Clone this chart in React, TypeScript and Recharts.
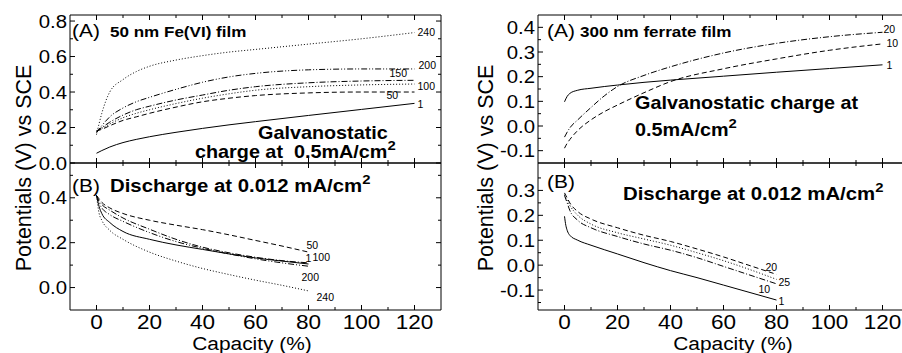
import { LineChart, Line, XAxis, YAxis } from 'recharts';

const FONT = '"Liberation Sans", Arial, Helvetica, sans-serif';
const SX = 1.1; // the scan is a little stretched sideways

// (A) left: 50 nm Fe(VI) film, galvanostatic charge
const capA = [0, 2, 5, 10, 15, 20, 30, 40, 50, 60, 80, 100, 120];
const a50_1 = [0.055, 0.07, 0.09, 0.115, 0.133, 0.148, 0.173, 0.195, 0.215, 0.233, 0.268, 0.302, 0.336];
const a50_50 = [0.18, 0.19, 0.21, 0.24, 0.26, 0.28, 0.315, 0.345, 0.365, 0.38, 0.395, 0.4, 0.4];
const a50_100 = [0.18, 0.195, 0.22, 0.255, 0.28, 0.3, 0.335, 0.365, 0.39, 0.41, 0.43, 0.44, 0.445];
const a50_150 = [0.18, 0.2, 0.23, 0.27, 0.3, 0.32, 0.355, 0.383, 0.41, 0.43, 0.452, 0.462, 0.466];
const a50_200 = [0.17, 0.21, 0.26, 0.31, 0.345, 0.37, 0.415, 0.455, 0.485, 0.505, 0.525, 0.53, 0.53];
const a50_240 = [0.16, 0.28, 0.4, 0.47, 0.515, 0.545, 0.58, 0.605, 0.625, 0.64, 0.67, 0.7, 0.735];

// (B) left: discharge
const capB = [0, 1, 2, 5, 10, 20, 30, 40, 50, 60, 70, 80];
const b50_1 = [0.41, 0.36, 0.33, 0.29, 0.25, 0.215, 0.19, 0.17, 0.15, 0.132, 0.118, 0.105];
const b50_50 = [0.41, 0.395, 0.38, 0.355, 0.33, 0.3, 0.278, 0.258, 0.235, 0.21, 0.185, 0.158];
const b50_100 = [0.41, 0.385, 0.37, 0.345, 0.31, 0.26, 0.215, 0.18, 0.155, 0.135, 0.12, 0.11];
const b50_200 = [0.41, 0.375, 0.355, 0.325, 0.295, 0.245, 0.205, 0.175, 0.15, 0.128, 0.11, 0.095];
const b50_240 = [0.41, 0.33, 0.3, 0.255, 0.215, 0.158, 0.118, 0.085, 0.058, 0.033, 0.01, -0.015];

// (A) right: 300 nm ferrate film, charge
const capC = [0, 1, 2, 5, 10, 15, 20, 30, 40, 60, 80, 100, 120];
const c300_1 = [0.098, 0.12, 0.132, 0.145, 0.153, 0.16, 0.166, 0.177, 0.186, 0.202, 0.218, 0.233, 0.248];
const c300_10 = [-0.09, -0.07, -0.055, -0.018, 0.025, 0.058, 0.085, 0.135, 0.18, 0.232, 0.272, 0.307, 0.333];
const c300_20 = [-0.045, -0.025, -0.008, 0.025, 0.075, 0.122, 0.16, 0.205, 0.24, 0.296, 0.335, 0.362, 0.38];

// (B) right: discharge
const capD = [0, 0.5, 1, 2, 5, 10, 20, 30, 40, 50, 60, 70, 80];
const d300_1 = [0.196, 0.16, 0.14, 0.12, 0.1, 0.08, 0.045, 0.01, -0.022, -0.05, -0.08, -0.11, -0.14];
const d300_10 = [0.28, 0.265, 0.25, 0.22, 0.18, 0.15, 0.115, 0.085, 0.06, 0.03, -0.005, -0.04, -0.075];
const d300_20 = [0.29, 0.28, 0.27, 0.25, 0.215, 0.185, 0.15, 0.12, 0.095, 0.065, 0.033, -0.002, -0.037];
const d300_25 = [0.283, 0.27, 0.26, 0.24, 0.2, 0.165, 0.13, 0.105, 0.08, 0.05, 0.018, -0.018, -0.057];

// ticks
const xTicks = [0, 10, 20, 30, 40, 50, 60, 70, 80, 90, 100, 110, 120];
const xMajor = [0, 20, 40, 60, 80, 100, 120];
const yTicksA50 = [0, 0.1, 0.2, 0.3, 0.4, 0.5, 0.6, 0.7, 0.8];
const yMajorA50 = [0, 0.2, 0.4, 0.6, 0.8];
const yTicksB50 = [0, 0.1, 0.2, 0.3, 0.4, 0.5];
const yMajorB50 = [0, 0.2, 0.4];
const yTicksA300 = [-0.1, -0.05, 0, 0.05, 0.1, 0.15, 0.2, 0.25, 0.3, 0.35, 0.4];
const yMajorA300 = [-0.1, 0, 0.1, 0.2, 0.3, 0.4];
const yTicksB300 = [-0.15, -0.1, -0.05, 0, 0.05, 0.1, 0.15, 0.2, 0.25, 0.3, 0.35];
const yMajorB300 = [-0.1, 0, 0.1, 0.2, 0.3];

const SOLID = undefined;
const DASH = '5 3';
const DOT = '1 2';
const DASHDOT = '6 2 1 2';
const DASHDOTDOT = '6 2 1 2 1 2';

type Series = { key: string; label: string; dash?: string; vals: number[]; dx: number; dy: number };

const seriesA50: Series[] = [
  { key: 's1', label: '1', dash: SOLID, vals: a50_1, dx: 3, dy: 5 },
  { key: 's50', label: '50', dash: DASH, vals: a50_50, dx: -28, dy: 7 },
  { key: 's100', label: '100', dash: DOT, vals: a50_100, dx: 3, dy: 6 },
  { key: 's150', label: '150', dash: DASHDOT, vals: a50_150, dx: -25, dy: -3 },
  { key: 's200', label: '200', dash: DASHDOTDOT, vals: a50_200, dx: 4, dy: 0 },
  { key: 's240', label: '240', dash: DOT, vals: a50_240, dx: 3, dy: 3 },
];
const seriesB50: Series[] = [
  { key: 's1', label: '1', dash: SOLID, vals: b50_1, dx: -3, dy: -2 },
  { key: 's50', label: '50', dash: DASH, vals: b50_50, dx: -2, dy: -3.5 },
  { key: 's100', label: '100', dash: DASHDOT, vals: b50_100, dx: 4, dy: -2 },
  { key: 's200', label: '200', dash: DASHDOTDOT, vals: b50_200, dx: -7, dy: 15 },
  { key: 's240', label: '240', dash: DOT, vals: b50_240, dx: 8, dy: 10 },
];
const seriesA300: Series[] = [
  { key: 's1', label: '1', dash: SOLID, vals: c300_1, dx: 4, dy: 4 },
  { key: 's10', label: '10', dash: DASH, vals: c300_10, dx: 4, dy: 3 },
  { key: 's20', label: '20', dash: DASHDOT, vals: c300_20, dx: 1, dy: 1 },
];
const seriesB300: Series[] = [
  { key: 's1', label: '1', dash: SOLID, vals: d300_1, dx: 2, dy: 5 },
  { key: 's10', label: '10', dash: DASHDOT, vals: d300_10, dx: -18, dy: 9 },
  { key: 's20', label: '20', dash: DASH, vals: d300_20, dx: -11, dy: -3 },
  { key: 's25', label: '25', dash: DOT, vals: d300_25, dx: 2, dy: 7 },
];

const isIn = (v: number, list: number[]) => list.some((m) => Math.abs(m - v) < 1e-6);

function St({ x, y, size, anchor = 'start', bold = false, children }: any) {
  return (
    <text
      transform={`translate(${x} ${y}) scale(${SX} 1)`}
      fontSize={size}
      fontFamily={FONT}
      fontWeight={bold ? 'bold' : 'normal'}
      textAnchor={anchor}
      fill="#000"
      style={{ whiteSpace: 'pre' }}
    >
      {children}
    </text>
  );
}

const yTick = (side: 'l' | 'r', majors: number[], show: boolean) => (tp: any) => {
  const v = tp.payload.value;
  const major = isIn(v, majors);
  const len = major ? 5 : 3;
  const dir = side === 'l' ? 1 : -1;
  return (
    <g>
      <line x1={tp.x} x2={tp.x + dir * len} y1={tp.y} y2={tp.y} stroke="#000" strokeWidth={1} />
      {show && major && (
        <St x={tp.x - 3} y={tp.y + 6.6} size={18.5} anchor="end">
          {v.toFixed(1)}
        </St>
      )}
    </g>
  );
};

const xTick = (side: 't' | 'b', show: boolean) => (tp: any) => {
  const v = tp.payload.value;
  const major = isIn(v, xMajor);
  const len = major ? 5 : 3;
  const dir = side === 'b' ? -1 : 1;
  return (
    <g>
      <line x1={tp.x} x2={tp.x} y1={tp.y} y2={tp.y + dir * len} stroke="#000" strokeWidth={1} />
      {show && major && (
        <St x={tp.x} y={tp.y + 19} size={20.5} anchor="middle">
          {v}
        </St>
      )}
    </g>
  );
};

type PanelProps = {
  left: number;
  top: number;
  height: number;
  topH: number;
  bottomH: number;
  cap: number[];
  series: Series[];
  yDomain: [number, number];
  yTicks: number[];
  yMajor: number[];
  showX: boolean;
};

function Panel(p: PanelProps) {
  const data = p.cap.map((c, i) => {
    const row: any = { cap: c };
    p.series.forEach((s) => (row[s.key] = s.vals[i]));
    return row;
  });
  const last = p.cap.length - 1;
  const common = { tickSize: 0, tickMargin: 0, tickLine: false, interval: 0 as const, allowDataOverflow: true, axisLine: { stroke: '#000' } };
  return (
    <div style={{ position: 'absolute', left: p.left, top: p.top }}>
      <LineChart width={460} height={p.height} data={data} margin={{ top: 0, right: 0, bottom: 0, left: 0 }}>
        <XAxis xAxisId="b" dataKey="cap" type="number" domain={[-10, 130]} ticks={xTicks} orientation="bottom" height={p.bottomH} tick={xTick('b', p.showX)} {...common} />
        <XAxis xAxisId="t" dataKey="cap" type="number" domain={[-10, 130]} ticks={xTicks} orientation="top" height={p.topH} tick={xTick('t', false)} {...common} />
        <YAxis yAxisId="l" type="number" domain={p.yDomain} ticks={p.yTicks} orientation="left" width={70} tick={yTick('l', p.yMajor, true)} {...common} />
        <YAxis yAxisId="r" type="number" domain={p.yDomain} ticks={p.yTicks} orientation="right" width={19} tick={yTick('r', p.yMajor, false)} {...common} />
        {p.series.map((s) => (
          <Line
            key={s.key}
            xAxisId="b"
            yAxisId="l"
            dataKey={s.key}
            type="monotone"
            stroke="#000"
            strokeWidth={1}
            strokeDasharray={s.dash}
            dot={false}
            isAnimationActive={false}
            label={(lp: any) =>
              lp.index === last ? (
                <text key={s.key + '-lbl'} x={lp.x + s.dx} y={lp.y + s.dy} fontSize={10.5} fontFamily={FONT} fill="#000">
                  {s.label}
                </text>
              ) : (
                <g key={s.key + '-' + lp.index} />
              )
            }
          />
        ))}
      </LineChart>
    </div>
  );
}

export default function App() {
  return (
    <div style={{ position: 'absolute', left: 0, top: 0, width: 902, height: 353, overflow: 'hidden', background: '#fff' }}>
      <Panel left={0} top={0} height={175} topH={15} bottomH={12} cap={capA} series={seriesA50} yDomain={[0, 0.834]} yTicks={yTicksA50} yMajor={yMajorA50} showX={false} />
      <Panel left={0} top={148} height={205} topH={15} bottomH={43} cap={capB} series={seriesB50} yDomain={[-0.1, 0.555]} yTicks={yTicksB50} yMajor={yMajorB50} showX />
      <Panel left={468} top={0} height={175} topH={15} bottomH={12} cap={capC} series={seriesA300} yDomain={[-0.15, 0.45]} yTicks={yTicksA300} yMajor={yMajorA300} showX={false} />
      <Panel left={468} top={148} height={205} topH={15} bottomH={43} cap={capD} series={seriesB300} yDomain={[-0.18, 0.41]} yTicks={yTicksB300} yMajor={yMajorB300} showX />

      <svg width={902} height={353} style={{ position: 'absolute', left: 0, top: 0, pointerEvents: 'none' }}>
        {/* axis titles */}
        <text transform="translate(31 168) rotate(-90)" textAnchor="middle" fontSize={21.5} fontFamily={FONT}>Potentials (V) vs SCE</text>
        <text transform="translate(493 168) rotate(-90)" textAnchor="middle" fontSize={21.5} fontFamily={FONT}>Potentials (V) vs SCE</text>
        <St x={252} y={350} size={19} anchor="middle">Capacity (%)</St>
        <St x={733} y={350} size={19} anchor="middle">Capacity (%)</St>

        {/* left panel notes */}
        <St x={72} y={37} size={19}>(A)</St>
        <St x={110} y={37} size={15.5} bold>50 nm Fe(VI) film</St>
        <St x={258} y={138.5} size={18} bold>Galvanostatic</St>
        <St x={195} y={158} size={18} bold>
          {'charge at  0.5mA/cm'}<tspan dy={-8} fontSize={13.5}>2</tspan>
        </St>
        <St x={72} y={192} size={19}>(B)</St>
        <St x={110} y={192} size={18.5} bold>
          Discharge at 0.012 mA/cm<tspan dy={-8} fontSize={13.5}>2</tspan>
        </St>

        {/* right panel notes */}
        <St x={547} y={37} size={19}>(A)</St>
        <St x={580} y={37} size={15.5} bold>300 nm ferrate film</St>
        <St x={635} y={109} size={18} bold>Galvanostatic charge at</St>
        <St x={635} y={136} size={18} bold>
          0.5mA/cm<tspan dy={-8} fontSize={13.5}>2</tspan>
        </St>
        <St x={547} y={188} size={19}>(B)</St>
        <St x={623} y={200} size={18.5} bold>
          Discharge at 0.012 mA/cm<tspan dy={-8} fontSize={13.5}>2</tspan>
        </St>
      </svg>
    </div>
  );
}
